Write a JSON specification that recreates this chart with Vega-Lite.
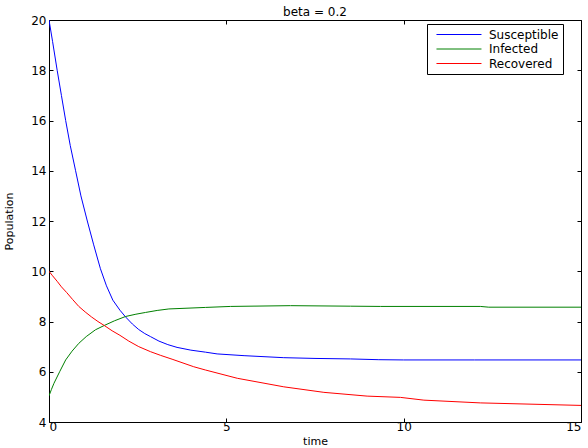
{
  "$schema": "https://vega.github.io/schema/vega-lite/v6.json",
  "width": 532,
  "height": 402,
  "autosize": {"type": "none"},
  "padding": {"left": 49, "top": 20, "right": 7, "bottom": 26},
  "background": "white",
  "config": {
    "font": "DejaVu Sans",
    "view": {"stroke": "black", "strokeWidth": 1},
    "axis": {"grid": false, "domain": false, "tickColor": "black", "labelColor": "black", "titleColor": "black", "labelFont": "DejaVu Sans", "titleFont": "DejaVu Sans", "labelFontSize": 12, "titleFontSize": 11, "titleFontWeight": "normal", "tickSize": -4, "labelPadding": 7}
  },
  "title": {"text": "beta = 0.2", "fontSize": 12, "fontWeight": "normal", "font": "DejaVu Sans", "color": "black", "offset": -5},
  "data": {"values": [
    {"t": 0, "value": 20, "series": "Susceptible"},
    {"t": 0.1, "value": 19.15, "series": "Susceptible"},
    {"t": 0.23, "value": 18, "series": "Susceptible"},
    {"t": 0.35, "value": 17.0, "series": "Susceptible"},
    {"t": 0.47, "value": 16, "series": "Susceptible"},
    {"t": 0.6, "value": 15.0, "series": "Susceptible"},
    {"t": 0.75, "value": 14, "series": "Susceptible"},
    {"t": 0.9, "value": 13.0, "series": "Susceptible"},
    {"t": 1.08, "value": 12, "series": "Susceptible"},
    {"t": 1.26, "value": 11.05, "series": "Susceptible"},
    {"t": 1.45, "value": 10.1, "series": "Susceptible"},
    {"t": 1.62, "value": 9.42, "series": "Susceptible"},
    {"t": 1.8, "value": 8.85, "series": "Susceptible"},
    {"t": 2.0, "value": 8.45, "series": "Susceptible"},
    {"t": 2.16, "value": 8.18, "series": "Susceptible"},
    {"t": 2.35, "value": 7.9, "series": "Susceptible"},
    {"t": 2.53, "value": 7.68, "series": "Susceptible"},
    {"t": 2.7, "value": 7.52, "series": "Susceptible"},
    {"t": 2.86, "value": 7.4, "series": "Susceptible"},
    {"t": 3.1, "value": 7.22, "series": "Susceptible"},
    {"t": 3.35, "value": 7.08, "series": "Susceptible"},
    {"t": 3.61, "value": 6.97, "series": "Susceptible"},
    {"t": 4.0, "value": 6.86, "series": "Susceptible"},
    {"t": 4.41, "value": 6.78, "series": "Susceptible"},
    {"t": 4.74, "value": 6.71, "series": "Susceptible"},
    {"t": 5.5, "value": 6.64, "series": "Susceptible"},
    {"t": 6.62, "value": 6.56, "series": "Susceptible"},
    {"t": 7.5, "value": 6.53, "series": "Susceptible"},
    {"t": 8.5, "value": 6.51, "series": "Susceptible"},
    {"t": 9.3, "value": 6.48, "series": "Susceptible"},
    {"t": 10, "value": 6.47, "series": "Susceptible"},
    {"t": 12, "value": 6.47, "series": "Susceptible"},
    {"t": 15, "value": 6.47, "series": "Susceptible"},
    {"t": 0, "value": 5.04, "series": "Infected"},
    {"t": 0.07, "value": 5.3, "series": "Infected"},
    {"t": 0.14, "value": 5.54, "series": "Infected"},
    {"t": 0.3, "value": 6.0, "series": "Infected"},
    {"t": 0.47, "value": 6.47, "series": "Infected"},
    {"t": 0.65, "value": 6.82, "series": "Infected"},
    {"t": 0.84, "value": 7.13, "series": "Infected"},
    {"t": 1.05, "value": 7.4, "series": "Infected"},
    {"t": 1.31, "value": 7.67, "series": "Infected"},
    {"t": 1.57, "value": 7.85, "series": "Infected"},
    {"t": 1.85, "value": 8.03, "series": "Infected"},
    {"t": 2.16, "value": 8.2, "series": "Infected"},
    {"t": 2.45, "value": 8.29, "series": "Infected"},
    {"t": 2.72, "value": 8.36, "series": "Infected"},
    {"t": 3.05, "value": 8.44, "series": "Infected"},
    {"t": 3.38, "value": 8.5, "series": "Infected"},
    {"t": 4.41, "value": 8.56, "series": "Infected"},
    {"t": 5.12, "value": 8.6, "series": "Infected"},
    {"t": 6.81, "value": 8.63, "series": "Infected"},
    {"t": 8.5, "value": 8.61, "series": "Infected"},
    {"t": 9.35, "value": 8.6, "series": "Infected"},
    {"t": 12.16, "value": 8.6, "series": "Infected"},
    {"t": 12.4, "value": 8.57, "series": "Infected"},
    {"t": 15, "value": 8.57, "series": "Infected"},
    {"t": 0, "value": 10, "series": "Recovered"},
    {"t": 0.1, "value": 9.82, "series": "Recovered"},
    {"t": 0.23, "value": 9.6, "series": "Recovered"},
    {"t": 0.35, "value": 9.38, "series": "Recovered"},
    {"t": 0.5, "value": 9.15, "series": "Recovered"},
    {"t": 0.67, "value": 8.87, "series": "Recovered"},
    {"t": 0.84, "value": 8.6, "series": "Recovered"},
    {"t": 1.02, "value": 8.38, "series": "Recovered"},
    {"t": 1.2, "value": 8.18, "series": "Recovered"},
    {"t": 1.38, "value": 8.0, "series": "Recovered"},
    {"t": 1.57, "value": 7.83, "series": "Recovered"},
    {"t": 1.78, "value": 7.63, "series": "Recovered"},
    {"t": 2.0, "value": 7.45, "series": "Recovered"},
    {"t": 2.25, "value": 7.22, "series": "Recovered"},
    {"t": 2.53, "value": 7.0, "series": "Recovered"},
    {"t": 2.86, "value": 6.8, "series": "Recovered"},
    {"t": 3.15, "value": 6.65, "series": "Recovered"},
    {"t": 3.47, "value": 6.5, "series": "Recovered"},
    {"t": 4.08, "value": 6.2, "series": "Recovered"},
    {"t": 4.41, "value": 6.07, "series": "Recovered"},
    {"t": 5.31, "value": 5.74, "series": "Recovered"},
    {"t": 6.62, "value": 5.4, "series": "Recovered"},
    {"t": 7.75, "value": 5.18, "series": "Recovered"},
    {"t": 8.97, "value": 5.03, "series": "Recovered"},
    {"t": 9.91, "value": 4.98, "series": "Recovered"},
    {"t": 10.57, "value": 4.87, "series": "Recovered"},
    {"t": 12.16, "value": 4.76, "series": "Recovered"},
    {"t": 15, "value": 4.66, "series": "Recovered"}
  ]},
  "layer": [
    {
      "mark": {"type": "line", "strokeWidth": 1, "clip": true},
      "encoding": {
        "x": {"field": "t", "type": "quantitative", "scale": {"domain": [0, 15], "nice": false}, "axis": {"orient": "bottom", "values": [0, 5, 10, 15], "title": "time", "titlePadding": 3, "labelPadding": 3}},
        "y": {"field": "value", "type": "quantitative", "scale": {"domain": [4, 20], "nice": false, "zero": false}, "axis": {"orient": "left", "values": [4, 6, 8, 10, 12, 14, 16, 18, 20], "title": "Population", "titlePadding": 16}},
        "color": {"field": "series", "type": "nominal", "sort": null,
          "scale": {"domain": ["Susceptible", "Infected", "Recovered"], "range": ["#0000ff", "#008000", "#ff0000"]},
          "legend": {"title": null, "orient": "none", "legendX": 378, "legendY": 4, "direction": "vertical",
            "strokeColor": "black", "fillColor": "white", "padding": 4, "rowPadding": 1.5,
            "symbolType": "M-0.17,0H7.33", "symbolSize": 144, "symbolStrokeWidth": 1, "symbolFillColor": "transparent",
            "labelOffset": 45, "labelFontSize": 12, "labelFont": "DejaVu Sans", "labelColor": "black"}
        }
      }
    },
    {
      "mark": {"type": "line", "strokeOpacity": 0},
      "encoding": {
        "x": {"field": "t", "type": "quantitative", "axis": {"orient": "top", "values": [0, 5, 10, 15], "labels": false, "title": null}},
        "y": {"field": "value", "type": "quantitative", "axis": {"orient": "right", "values": [4, 6, 8, 10, 12, 14, 16, 18, 20], "labels": false, "title": null}},
        "detail": {"field": "series"}
      }
    }
  ],
  "resolve": {"axis": {"x": "independent", "y": "independent"}}
}
